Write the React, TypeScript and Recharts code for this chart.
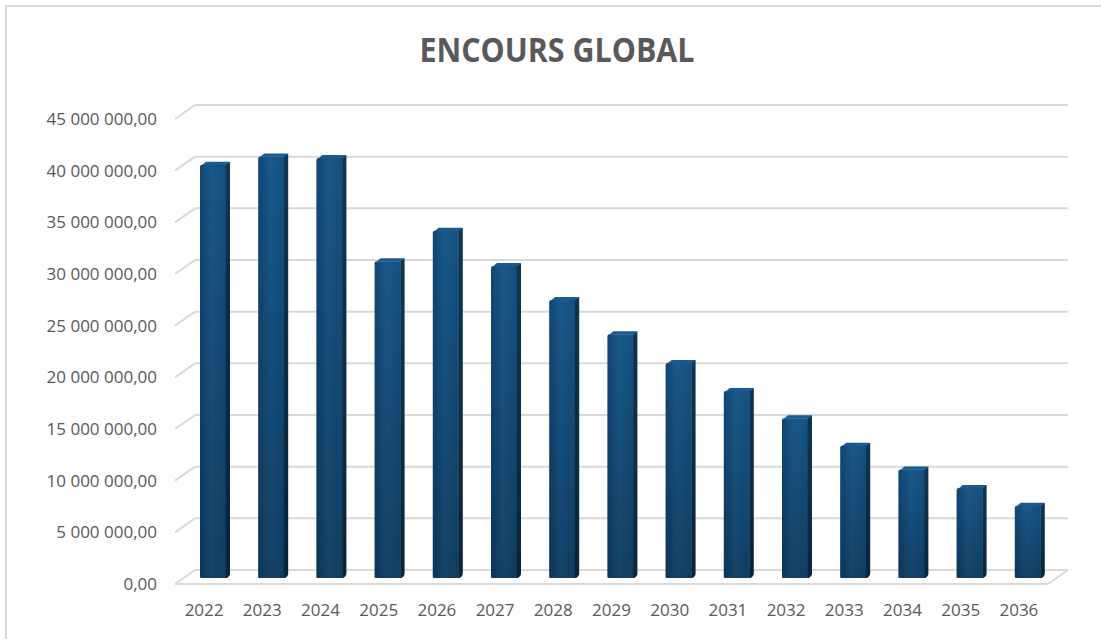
import React from "react";
import { BarChart, Bar, XAxis, YAxis, CartesianGrid } from "recharts";

const years = ["2022", "2023", "2024", "2025", "2026", "2027", "2028", "2029", "2030", "2031", "2032", "2033", "2034", "2035", "2036"];
const encours = [40.0, 40.8, 40.65, 30.66, 33.6, 30.2, 26.9, 23.6, 20.8, 18.1, 15.46, 12.8, 10.5, 8.7, 7.0].map((v) => v * 1000000);
const yTicks = [0, 5000000, 10000000, 15000000, 20000000, 25000000, 30000000, 35000000, 40000000, 45000000];

const data = years.map((y, i) => ({ year: y, value: encours[i] }));

const W = 1101;
const H = 639;
const PLOT_LEFT = 175;
const PLOT_RIGHT = 1048;
const PLOT_TOP = 119;
const PLOT_BOTTOM = 584;
const DEPTH_X = 20;
const DEPTH_Y = -14;

const fmt = (v: number) => {
  const s = Math.round(v).toString().replace(/\B(?=(\d{3})+(?!\d))/g, " ");
  return s + ",00";
};

const GridLine = (props: any) => {
  const { x1, y1, x2 } = props;
  const isFloor = Math.abs(y1 - PLOT_BOTTOM) < 1.5;
  const stroke = "#d9d9d9";
  return (
    <g>
      <line x1={x1} y1={y1} x2={x1 + DEPTH_X} y2={y1 + DEPTH_Y} stroke={stroke} strokeWidth={2} />
      <line x1={x1 + DEPTH_X} y1={y1 + DEPTH_Y} x2={x2 + DEPTH_X} y2={y1 + DEPTH_Y} stroke={stroke} strokeWidth={2} />
      {isFloor && (
        <>
          <line x1={x1} y1={y1} x2={x2} y2={y1} stroke={stroke} strokeWidth={2} />
          <line x1={x2} y1={y1} x2={x2 + DEPTH_X} y2={y1 + DEPTH_Y} stroke={stroke} strokeWidth={2} />
        </>
      )}
    </g>
  );
};

const Bar3D = (props: any) => {
  const { x, y, width, height } = props;
  if (height == null || height <= 0) return null;
  const fx = x + 9;
  const fy = y - 6;
  const fw = width;
  const fh = height;
  const sd = 4;
  const sh = -3;
  const r = 2;
  const front = `M${fx},${fy + fh - 1} L${fx},${fy + r} Q${fx},${fy} ${fx + r},${fy} L${fx + fw},${fy} L${fx + fw},${fy + fh} L${fx + 1.5},${fy + fh} Q${fx},${fy + fh} ${fx},${fy + fh - 1} Z`;
  const side = `M${fx + fw - 0.3},${fy} L${fx + fw + sd},${fy + sh} L${fx + fw + sd},${fy + fh + sh - 1} Q${fx + fw + sd},${fy + fh + sh + 1} ${fx + fw + 1},${fy + fh} L${fx + fw - 0.3},${fy + fh} Z`;
  const top = `M${fx + r},${fy + 0.3} L${fx + sd + r},${fy + sh} L${fx + fw + sd - 1},${fy + sh} Q${fx + fw + sd},${fy + sh} ${fx + fw + sd},${fy + sh + 0.5} L${fx + fw},${fy + 0.3} Z`;
  return (
    <g>
      <path d={front} fill="url(#frontGrad)" />
      <path d={front} fill="url(#frontShade)" />
      <path d={side} fill="url(#sideGrad)" />
      <path d={top} fill="#1b5a8e" />
    </g>
  );
};

export default function App() {
  return (
    <div style={{ position: "absolute", left: 0, top: 0, width: W, height: H, background: "#ffffff", overflow: "hidden" }}>
      <svg width={W} height={H} style={{ position: "absolute", left: 0, top: 0 }}>
        <rect x={6} y={6} width={W + 20} height={H + 20} fill="#ffffff" stroke="#d9d9d9" strokeWidth={2} />
        <text
          x={557}
          y={62}
          textAnchor="middle"
          fontFamily="'Open Sans', sans-serif"
          fontWeight={700}
          fontSize={34}
          fill="#595959"
          textLength={275}
          lengthAdjust="spacingAndGlyphs"
        >
          ENCOURS GLOBAL
        </text>
      </svg>
      <div style={{ position: "absolute", left: 0, top: 0 }}>
        <BarChart
          width={W}
          height={H}
          data={data}
          margin={{ top: PLOT_TOP, right: W - PLOT_RIGHT, bottom: 0, left: 0 }}
          barSize={26}
        >
          <defs>
            <linearGradient id="frontGrad" x1="0" y1="0" x2="1" y2="0">
              <stop offset="0%" stopColor="#114672" />
              <stop offset="45%" stopColor="#1a5889" />
              <stop offset="100%" stopColor="#15507f" />
            </linearGradient>
            <linearGradient id="frontShade" x1="0" y1="0" x2="0" y2="1">
              <stop offset="0%" stopColor="#000000" stopOpacity={0} />
              <stop offset="100%" stopColor="#000000" stopOpacity={0.25} />
            </linearGradient>
            <linearGradient id="sideGrad" x1="0" y1="0" x2="0" y2="1">
              <stop offset="0%" stopColor="#0d3554" />
              <stop offset="100%" stopColor="#08243b" />
            </linearGradient>
          </defs>
          <CartesianGrid vertical={false} horizontal={(p: any) => <GridLine key={p.key ?? `${p.y1}`} {...p} />} />
          <XAxis
            dataKey="year"
            axisLine={false}
            tickLine={false}
            tickSize={0}
            tickMargin={20}
            height={H - PLOT_BOTTOM}
            interval={0}
            tick={{ fill: "#595959", fontSize: 17, fontFamily: "'Open Sans', sans-serif" }}
          />
          <YAxis
            width={PLOT_LEFT}
            domain={[0, 45000000]}
            ticks={yTicks}
            axisLine={false}
            tickLine={false}
            tickSize={0}
            tickMargin={18}
            tickFormatter={fmt}
            tick={{ fill: "#595959", fontSize: 17, fontFamily: "'Open Sans', sans-serif" }}
          />
          <Bar dataKey="value" isAnimationActive={false} shape={(p: any) => <Bar3D {...p} />} />
        </BarChart>
      </div>
    </div>
  );
}
